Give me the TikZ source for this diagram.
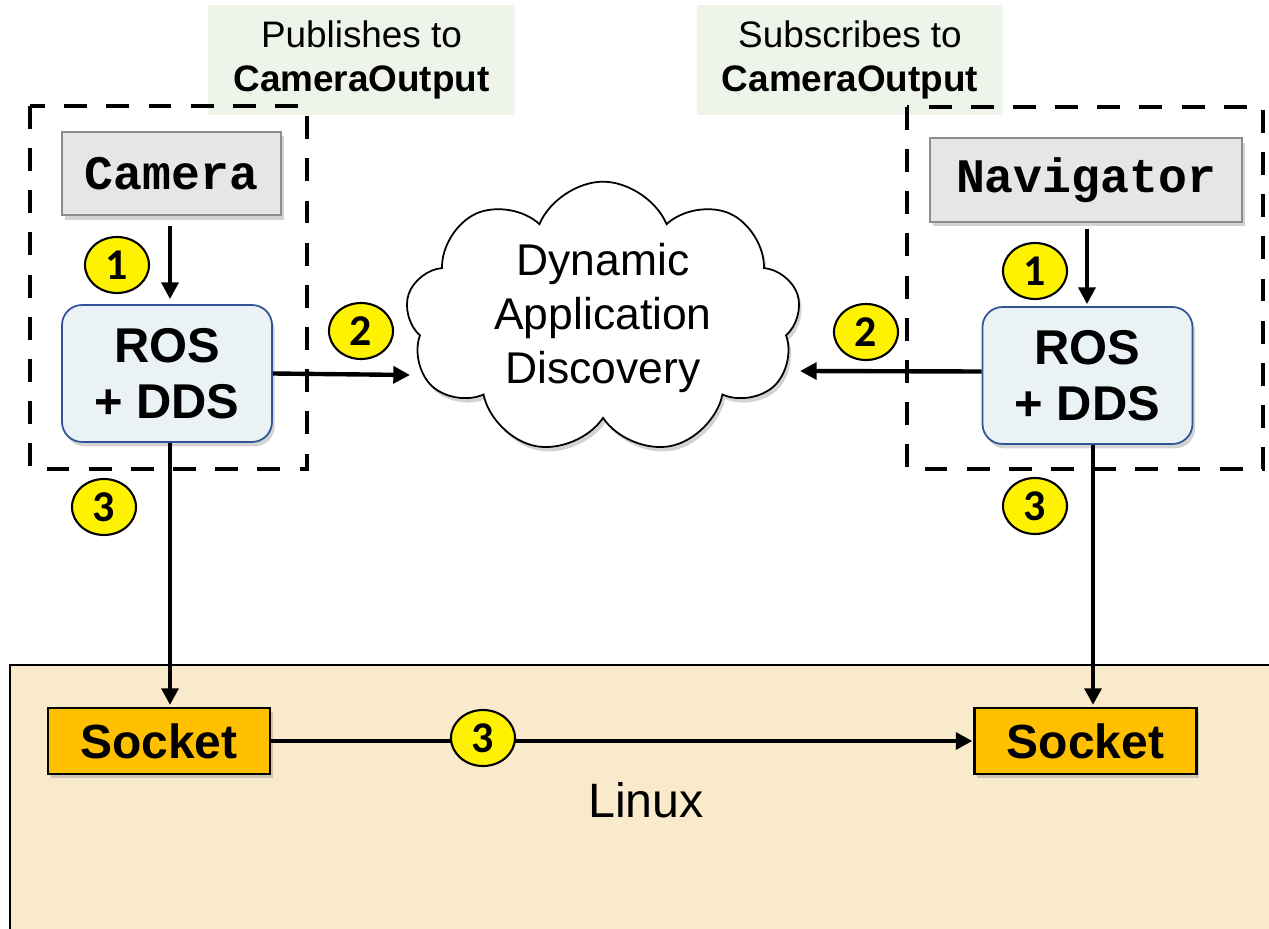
\documentclass[tikz,border=0pt]{standalone}
\usepackage{fontspec}
\setmainfont{Liberation Sans}
\newfontfamily\codefont{Liberation Mono}
\newfontfamily\badgefont{Carlito}
\usetikzlibrary{shapes.geometric,shapes.symbols,arrows.meta,shadows}

\definecolor{topicgreen}{HTML}{EEF4EA}
\definecolor{appgray}{HTML}{E6E6E6}
\definecolor{appline}{HTML}{8C8C8C}
\definecolor{rosblue}{HTML}{EAF2F5}
\definecolor{rosline}{HTML}{2F5597}
\definecolor{sockorange}{HTML}{FFC000}
\definecolor{linuxsand}{HTML}{F8EACB}

\begin{document}
\begin{tikzpicture}[x=0.02cm, y=-0.02cm, every node/.style={inner sep=0pt},
	softshadow/.style={drop shadow={opacity=0.35, shadow xshift=1.5pt, shadow yshift=-2.5pt}},
	topic/.style={rectangle, fill=topicgreen, minimum width=6.14cm, minimum height=2.2cm, align=center, font=\fontsize{21}{25.5}\selectfont},
	app/.style={rectangle, draw=appline, fill=appgray, line width=1pt, minimum height=1.67cm, font=\codefont\bfseries\fontsize{27.4}{30}\selectfont, softshadow},
	ros/.style={rectangle, rounded corners=0.4cm, draw=rosline, fill=rosblue, line width=1pt, minimum width=4.2cm, minimum height=2.74cm, align=center, font=\bfseries\fontsize{27.8}{31.7}\selectfont, softshadow},
	sock/.style={rectangle, draw=black, fill=sockorange, line width=1.2pt, minimum width=4.44cm, minimum height=1.32cm, font=\bfseries\fontsize{27.3}{30}\selectfont, softshadow},
	badge/.style={ellipse, draw=black, fill=yellow, line width=1.2pt, minimum width=1.28cm, minimum height=1.12cm, font=\badgefont\bfseries\fontsize{25}{25}\selectfont},
	arr/.style={draw=black, line width=2.5pt, -{Triangle[length=9.5pt,width=9.5pt]}},
	host/.style={draw=black, line width=2.8pt, dash pattern=on 13pt off 11pt}]
	\useasboundingbox (0,0) rectangle (1269,929);

	\draw[fill=linuxsand, line width=1pt] (10,665) rectangle (1285,945);
	\node[font=\fontsize{27.5}{30}\selectfont] (linux) at (646,800) {Linux};

	\node[topic] (pub) at (361.5,60) {Publishes to\\\textbf{CameraOutput}};
	\node[topic] (sub) at (850,60) {Subscribes to\\\textbf{CameraOutput}};

	\draw[host] (30,106) rectangle (307,469);
	\draw[host] (907,107) rectangle (1263,469);

	\node[app, minimum width=4.38cm] (cam) at (171.5,173.5) {Camera};
	\node[app, minimum width=6.24cm] (nav) at (1086,180) {Navigator};

	\node[ros] (rosL) at (167,373.5) {ROS\\+ DDS};
	\node[ros] (rosR) at (1087.5,375.5) {ROS\\+ DDS};

	\node[cloud, cloud puffs=9, cloud puff arc=135, aspect=1.55, draw=black, fill=white, line width=1pt, minimum width=7.9cm, minimum height=5.1cm, align=center, font=\fontsize{25.3}{30.6}\selectfont, softshadow] (dad) at (603,318) {Dynamic\\Application\\Discovery};

	\node[sock] (sockL) at (159,741) {Socket};
	\node[sock] (sockR) at (1085.5,741) {Socket};

	\path ([xshift=-0.03cm]cam.south) edge[arr, shorten <=0.2cm, shorten >=0.1cm] ([xshift=-0.03cm]cam.south |- rosL.north);
	\path ([xshift=0.02cm]nav.south) edge[arr, shorten <=0.12cm, shorten >=0.04cm] ([xshift=0.02cm]nav.south |- rosR.north);
	\path (rosL.east) edge[arr] (410,375);
	\path ([yshift=0.08cm]rosR.west) edge[arr] (800,371);
	\path ([xshift=0.06cm]rosL.south) edge[arr, shorten >=0.04cm] ([xshift=0.06cm]rosL.south |- sockL.north);
	\path ([xshift=0.11cm]rosR.south) edge[arr, shorten >=0.04cm] ([xshift=0.11cm]rosR.south |- sockR.north);
	\path (sockL) edge[arr, shorten >=0.02cm] (sockR);

	\node[badge] (oneL) at (117,265) {1};
	\node[badge] (oneR) at (1035,271) {1};
	\node[badge] (twoL) at (361,331) {2};
	\node[badge] (twoR) at (866,332) {2};
	\node[badge] (threeL) at (104,507) {3};
	\node[badge] (threeR) at (1035,506) {3};
	\node[badge] (threeM) at (483,738) {3};
\end{tikzpicture}
\end{document}
